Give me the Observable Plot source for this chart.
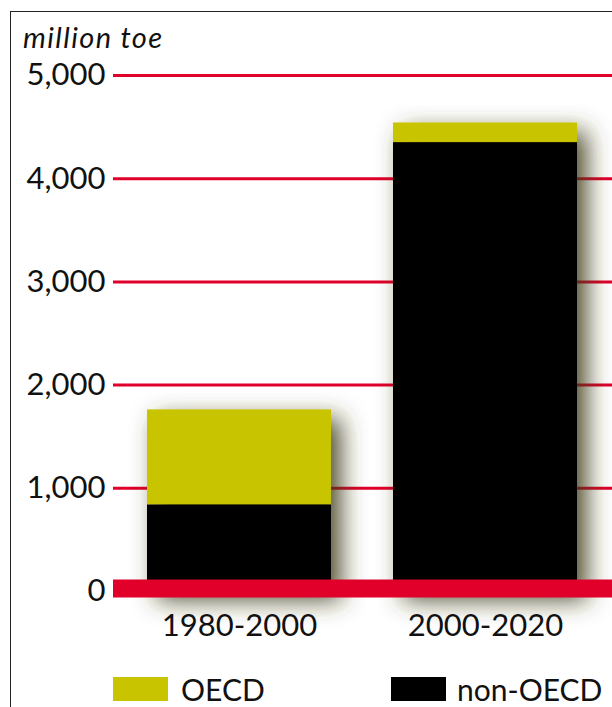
<!DOCTYPE html>
<html>
<head>
<meta charset="utf-8">
<script src="https://cdn.jsdelivr.net/npm/d3@7"></script>
<script src="https://cdn.jsdelivr.net/npm/@observablehq/plot@0.6"></script>
<style>
  body { margin: 0; background: #fff; }
  #wrap { position: relative; width: 612px; height: 707px; overflow: hidden; background: #fff; font-family: Lato, sans-serif; color: #111; }
  #frame { position: absolute; left: 10px; top: 11px; width: 700px; height: 800px; border-left: 1.6px solid #222; border-top: 1.6px solid #222; }
  #chart { position: absolute; left: 0; top: 0; }
  .lbl { position: absolute; line-height: 1; white-space: nowrap; }
  .sw { position: absolute; width: 55px; height: 24px; }
</style>
</head>
<body>
<div id="wrap">
  <div id="frame"></div>
  <div id="chart"></div>
  <div class="lbl" id="unit" style="left:23px; top:22px; font-size:29px; font-style:italic; letter-spacing:1.4px;"></div>
  <div id="legend"></div>
</div>
<script>
const periods = ["1980-2000", "2000-2020"];
const seriesNames = ["non-OECD", "OECD"];
const nonOECD = [840, 4350];
const OECD = [920, 190];
const yTicks = [0, 1000, 2000, 3000, 4000, 5000];
const unitLabel = "million toe";
const legendItems = ["OECD", "non-OECD"];
const colors = ["#c8c400", "#000000"];
const red = "#e0002a";

const data = [];
periods.forEach((p, i) => {
  data.push({period: p, series: "non-OECD", value: nonOECD[i]});
  data.push({period: p, series: "OECD", value: OECD[i]});
});

const chart = Plot.plot({
  width: 612,
  height: 660,
  marginLeft: 113,
  marginRight: 0,
  marginTop: 0,
  marginBottom: 0,
  style: {fontFamily: "Lato, sans-serif", background: "transparent", overflow: "visible"},
  x: {domain: periods, range: [146, 578], paddingInner: 0.251, paddingOuter: 0, axis: null},
  y: {domain: [0, 5000], range: [591, 75], axis: null},
  color: {domain: legendItems, range: colors},
  marks: [
    Plot.ruleY(yTicks.filter(d => d > 0), {stroke: red, strokeWidth: 3}),
    Plot.barY(data, {x: "period", y: "value", fill: "series", order: seriesNames}),
    Plot.ruleY([0], {stroke: red, strokeWidth: 18, dy: -3}),
    Plot.axisY(yTicks, {anchor: "left", tickSize: 0, tickPadding: 8, tickFormat: d3.format(","), fontSize: 31, fill: "#111", label: null}),
    Plot.text(periods, {x: d => d, y: () => 0, dy: 35, fontSize: 31, fill: "#111", lineAnchor: "middle"})
  ]
});

// drop shadow for the bars
const ns = "http://www.w3.org/2000/svg";
const defs = document.createElementNS(ns, "defs");
defs.innerHTML = '<filter id="shadow" x="-40%" y="-40%" width="190%" height="190%">' +
  '<feDropShadow dx="10" dy="9" stdDeviation="12" flood-color="#3c3a12" flood-opacity="0.9"/></filter>';
chart.insertBefore(defs, chart.firstChild);
const barG = chart.querySelector('g[aria-label="bar"]');
if (barG) barG.setAttribute("filter", "url(#shadow)");

document.getElementById("chart").appendChild(chart);
document.getElementById("unit").textContent = unitLabel;

const legend = document.getElementById("legend");
const legendPos = [[113, 181], [391, 457]];
legendItems.forEach((name, i) => {
  const sw = document.createElement("div");
  sw.className = "sw";
  sw.style.left = legendPos[i][0] + "px";
  sw.style.top = "677px";
  sw.style.background = colors[i];
  legend.appendChild(sw);
  const t = document.createElement("div");
  t.className = "lbl";
  t.style.left = legendPos[i][1] + "px";
  t.style.top = "674px";
  t.style.fontSize = "30px";
  t.textContent = name;
  legend.appendChild(t);
});
</script>
</body>
</html>
